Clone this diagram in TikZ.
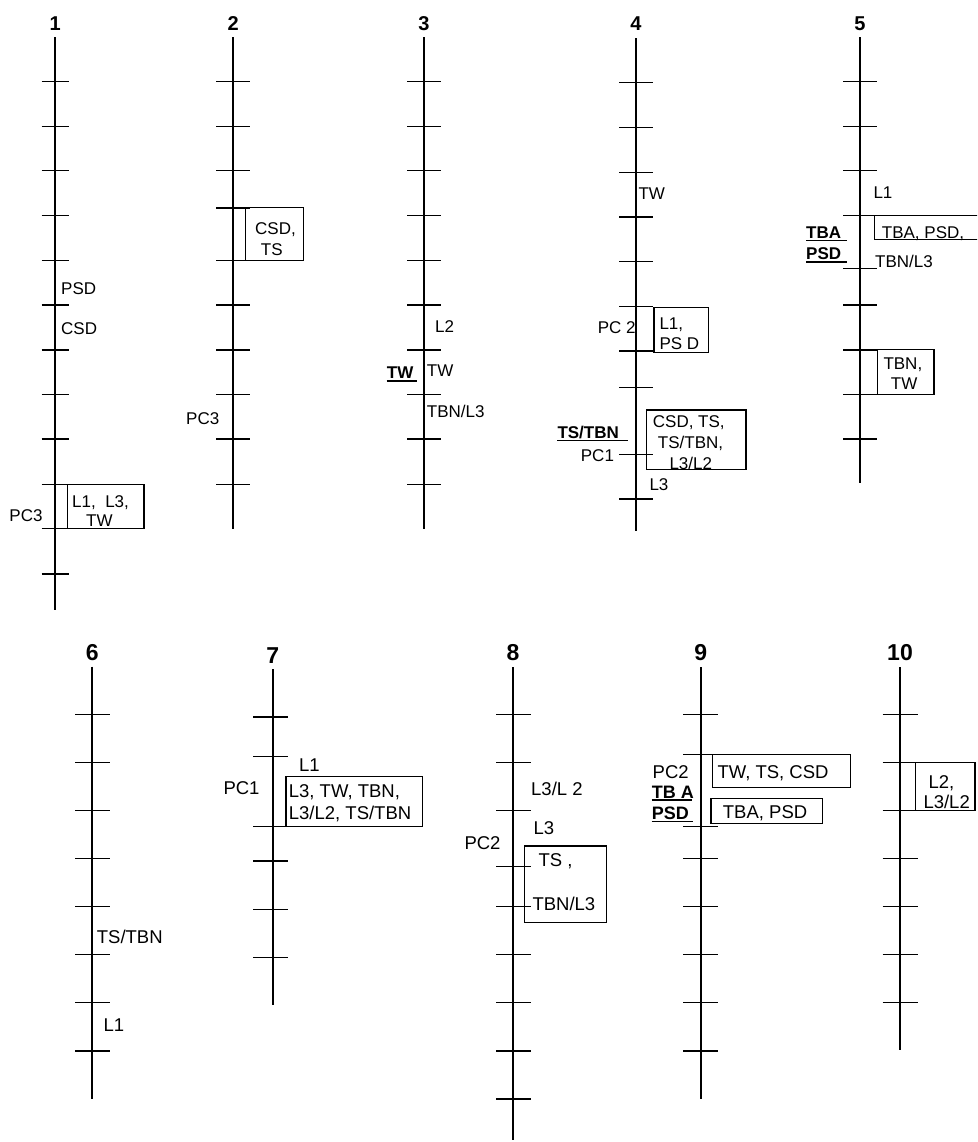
\documentclass[tikz,border=0pt]{standalone}
\usepackage{fontspec}
\setmainfont{Liberation Sans}
\usetikzlibrary{positioning}

\begin{document}
\begin{tikzpicture}[x=1pt, y=-1pt,
    axis/.style={line width=1.8pt, black},
    tickline/.style={line width=1.3pt, black},
    evbox/.style={draw=black, line width=1.1pt},
    uline/.style={line width=1.4pt, black},
    num/.style={font=\bfseries\fontsize{20}{22}\selectfont, anchor=base, inner sep=0pt},
    numb/.style={font=\bfseries\fontsize{23}{25}\selectfont, anchor=base, inner sep=0pt},
    lab/.style={font=\fontsize{17}{19}\selectfont, anchor=base west, inner sep=0pt},
    labb/.style={font=\fontsize{18.5}{20}\selectfont, anchor=base west, inner sep=0pt},
    key/.style={font=\bfseries\fontsize{17}{19}\selectfont, anchor=base west, inner sep=0pt},
    keyb/.style={font=\bfseries\fontsize{18}{20}\selectfont, anchor=base west, inner sep=0pt}
]
        \clip (0,0) rectangle (977,1142);

        % panel 1
        \node[num, name=n1] at(55.3,31) {1};
        \draw[axis] (55.3,37.5) -- (55.3,609.5);
        \foreach \y in {81.7,126.2,170.8,215.8,260.4,305,349.9,394.5,439,484.4,528.6,574}
            \draw[tickline] (41.7,\y) -- (69,\y);
        \node[lab, name=p1psd] at(61,294) {PSD};
        \node[lab, name=p1csd] at(61,334.6) {CSD};
        \draw[evbox] (67.7,484.4) rectangle (144,528.6);
        \node[lab, name=p1a] at(72,507) {L1,\ \ L3,};
        \node[lab, name=p1b] at(86,526.7) {TW};
        \node[lab, anchor=base east, name=p1pc] at(42.7,521) {PC3};

        % panel 2
        \node[num, name=n2] at(233.3,31) {2};
        \draw[axis] (233.3,37.5) -- (233.3,528.6);
        \foreach \y in {81.7,126.2,170.8,207.9,260.4,305,349.9,394.5,439,484.4}
            \draw[tickline] (216.3,\y) -- (250.3,\y);
        \draw[evbox] (245.3,207.9) rectangle (303.3,260.4);
        \node[lab, name=p2a] at(255,234.8) {CSD,};
        \node[lab, name=p2b] at(260.7,255.3) {TS};
        \node[lab, name=p2pc] at(186,424) {PC3};

        % panel 3
        \node[num, name=n3] at(424,31) {3};
        \draw[axis] (424,37.5) -- (424,528.6);
        \foreach \y in {81.7,126.2,170.8,215.8,260.4,305,349.9,394.5,439,484.4}
            \draw[tickline] (407,\y) -- (441,\y);
        \node[lab, name=p3l2] at(435,332) {L2};
        \node[lab, name=p3tw] at(426.7,376.8) {TW};
        \node[lab, name=p3tbn] at(426.7,417.4) {TBN/L3};
        \node[key, name=p3key] at(386.7,378.8) {TW};
        \draw[uline] (p3key.base west) ++(0,2.3) -- ++(30,0);

        % panel 4
        \node[num, name=n4] at(636,31) {4};
        \draw[axis] (636,38.3) -- (636,530.6);
        \foreach \y in {82.8,127.4,172.4,217,261.5,306.5,351,387.4,454.8,499}
            \draw[tickline] (619,\y) -- (653.3,\y);
        \node[lab, name=p4tw] at(638.3,200) {TW};
        \draw[evbox] (654,307.7) rectangle (708.3,352.3);
        \node[lab, name=p4a] at(659.3,329.5) {L1,};
        \node[lab, name=p4b] at(659.3,349.2) {PS D};
        \node[lab, name=p4pc2] at(597.7,333.4) {PC 2};
        \draw[evbox] (646.7,410) rectangle (746,469.4);
        \node[lab, name=p4c] at(652.7,427.3) {CSD, TS,};
        \node[lab, name=p4d] at(657.7,448.6) {TS/TBN,};
        \node[lab, name=p4e] at(669.3,469.5) {L3/L2};
        \node[key, name=p4key] at(557.3,438.7) {TS/TBN};
        \draw[uline] (p4key.base west) ++(0,2) -- ++(70.4,0);
        \node[lab, name=p4pc1] at(580.7,461.6) {PC1};
        \node[lab, name=p4l3] at(649.3,490.4) {L3};

        % panel 5
        \node[num, name=n5] at(860,31) {5};
        \draw[axis] (860,37.5) -- (860,483.2);
        \foreach \y in {81.7,126.2,170.8,215.8,268.2,305,349.9,394.5,439}
            \draw[tickline] (843.3,\y) -- (876.7,\y);
        \node[lab, name=p5l1] at(873.3,198) {L1};
        \draw[evbox] (874.3,215.8) rectangle (990,239.4);
        \node[lab, name=p5a] at(881.7,238) {TBA, PSD,};
        \node[lab, name=p5tbn] at(875,267.5) {TBN/L3};
        \node[key, name=p5k1] at(806,238.7) {TBA};
        \node[key, name=p5k2] at(806,259.3) {PSD};
        \draw[uline] (p5k1.base west) ++(0,2) -- ++(40.7,0);
        \draw[uline] (p5k2.base west) ++(0,2.7) -- ++(40.7,0);
        \draw[evbox] (877.7,349.9) rectangle (934,394.5);
        \node[lab, name=p5b] at(883.3,369.7) {TBN,};
        \node[lab, name=p5c] at(890.7,389.4) {TW};

        % panel 6
        \node[numb, name=n6] at(92.3,660.3) {6};
        \draw[axis] (92.3,666.7) -- (92.3,1099);
        \foreach \y in {714.7,762.7,810.7,858.7,906.7,954.7,1002.7,1051}
            \draw[tickline] (75,\y) -- (110,\y);
        \node[labb, name=p6ts] at(96.7,943) {TS/TBN};
        \node[labb, name=p6l1] at(103.3,1031.3) {L1};

        % panel 7
        \node[numb, name=n7] at(272.7,663) {7};
        \draw[axis] (272.7,669.3) -- (272.7,1005);
        \foreach \y in {717,756.7,826.7,861,909.3,957.3}
            \draw[tickline] (253.3,\y) -- (288.3,\y);
        \node[labb, name=p7l1] at(299,771.3) {L1};
        \node[labb, name=p7pc] at(223.3,794.6) {PC1};
        \draw[evbox] (286,776.7) rectangle (422.3,826.7);
        \node[labb, name=p7a] at(288.7,797) {L3, TW, TBN,};
        \node[labb, name=p7b] at(288.7,819) {L3/L2, TS/TBN};

        % panel 8
        \node[numb, name=n8] at(513,660.3) {8};
        \draw[axis] (513,667.3) -- (513,1140);
        \foreach \y in {714.7,762.7,810.7,866.7,906.7,954.7,1002.7,1051,1099}
            \draw[tickline] (496,\y) -- (531,\y);
        \node[labb, name=p8a] at(531,795.3) {L3/L 2};
        \node[labb, name=p8l3] at(533.3,834.6) {L3};
        \node[labb, name=p8pc] at(464.3,849.6) {PC2};
        \draw[evbox] (524.3,846) rectangle (606.7,922.3);
        \node[labb, name=p8b] at(538.3,866.3) {TS ,};
        \node[labb, name=p8c] at(532.3,910.3) {TBN/L3};

        % panel 9
        \node[numb, name=n9] at(700.7,660.3) {9};
        \draw[axis] (700.7,667.3) -- (700.7,1099);
        \foreach \y in {714.7,826.7,858.7,906.7,954.7,1002.7,1051}
            \draw[tickline] (683.3,\y) -- (718.3,\y);
        \draw[tickline] (683.3,754.7) -- (712.7,754.7);
        \draw[evbox] (712.7,754.7) rectangle (850.7,787.3);
        \node[labb, name=p9a] at(717.3,778) {TW, TS, CSD};
        \draw[evbox] (711,798.7) rectangle (822.7,823.3);
        \node[labb, name=p9b] at(722.7,818) {TBA, PSD};
        \node[labb, name=p9pc] at(652.5,778) {PC2};
        \node[keyb, name=p9k1] at(651.7,798) {TB A};
        \node[keyb, name=p9k2] at(651.7,819) {PSD};
        \draw[uline] (p9k1.base west) ++(0,2) -- ++(40,0);
        \draw[uline] (p9k2.base west) ++(0,2.7) -- ++(41,0);

        % panel 10
        \node[numb, name=n10] at(900,660.3) {10};
        \draw[axis] (900,667.3) -- (900,1050);
        \foreach \y in {714.7,762.7,810.7,858.7,906.7,954.7,1002.7}
            \draw[tickline] (882.7,\y) -- (917.7,\y);
        \draw[evbox] (915.3,762.7) rectangle (975,810.7);
        \node[labb, name=p10a] at(928.3,788) {L2,};
        \node[labb, name=p10b] at(923.3,808) {L3/L2};

\end{tikzpicture}
\end{document}
